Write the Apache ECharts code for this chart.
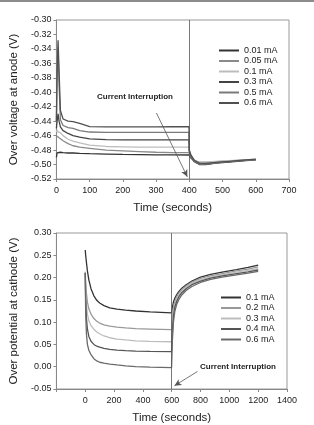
<!DOCTYPE html>
<html><head><meta charset="utf-8">
<script src="https://cdn.jsdelivr.net/npm/echarts@6/dist/echarts.min.js"></script>
<style>html,body{margin:0;padding:0;background:#fff}#c{width:314px;height:425px}</style>
</head><body><div id="c"></div>
<script>
// ---------- Top chart (anode) ----------
const anodeNames = ['0.01 mA','0.05 mA','0.1 mA','0.3 mA','0.5 mA','0.6 mA'];
const anodeColors = ['#333333','#8a8a8a','#bdbdbd','#444444','#7a7a7a','#505050'];
const anodeTime = [0,2,5,8,12,20,35,50,70,100,150,200,250,300,350,399,400,405,415,430,450,480,520,560,600];
const anode001 = [-0.490,-0.484,-0.482,-0.4825,-0.483,-0.4835,-0.484,-0.484,-0.4845,-0.485,-0.4855,-0.486,-0.4862,-0.4865,-0.4867,-0.4868,-0.488,-0.491,-0.4955,-0.499,-0.4995,-0.4975,-0.496,-0.4945,-0.4932];
const anode005 = [-0.460,-0.458,-0.462,-0.463,-0.464,-0.467,-0.471,-0.474,-0.476,-0.4775,-0.480,-0.481,-0.482,-0.483,-0.4835,-0.4836,-0.486,-0.490,-0.495,-0.497,-0.497,-0.496,-0.495,-0.494,-0.4933];
const anode01 = [-0.455,-0.452,-0.455,-0.455,-0.456,-0.460,-0.465,-0.4675,-0.470,-0.473,-0.475,-0.4755,-0.476,-0.476,-0.476,-0.476,-0.483,-0.489,-0.494,-0.4965,-0.4965,-0.4955,-0.4945,-0.4935,-0.493];
const anode03 = [-0.450,-0.440,-0.430,-0.440,-0.448,-0.453,-0.457,-0.460,-0.462,-0.4645,-0.4655,-0.466,-0.466,-0.466,-0.466,-0.466,-0.482,-0.489,-0.496,-0.500,-0.500,-0.498,-0.4965,-0.495,-0.4935];
const anode05 = [-0.440,-0.380,-0.340,-0.390,-0.438,-0.446,-0.449,-0.450,-0.453,-0.455,-0.4555,-0.4555,-0.4555,-0.4555,-0.4554,-0.4554,-0.481,-0.488,-0.495,-0.4995,-0.4995,-0.4975,-0.496,-0.4945,-0.493];
const anode06 = [-0.440,-0.370,-0.328,-0.370,-0.425,-0.437,-0.440,-0.4405,-0.443,-0.4475,-0.448,-0.4478,-0.4478,-0.4478,-0.4477,-0.4476,-0.480,-0.487,-0.494,-0.498,-0.4985,-0.497,-0.4955,-0.494,-0.4925];
const anodeSeries = [anode001, anode005, anode01, anode03, anode05, anode06];
const anodeInterrupt = 400;
const anodeArrow = [[301,-0.4287],[394,-0.517]];

// ---------- Bottom chart (cathode) ----------
const cathNames = ['0.1 mA','0.2 mA','0.3 mA','0.4 mA','0.6 mA'];
const cathColors = ['#333333','#999999','#bdbdbd','#555555','#6a6a6a'];
const cathTime = [0,3,8,15,25,40,60,80,100,130,170,220,280,350,450,599,
                  600,605,612,622,635,650,670,700,740,800,870,950,1050,1130,1200];
const cath01 = [0.262,0.250,0.235,0.215,0.195,0.175,0.159,0.149,0.143,0.137,0.132,0.129,0.127,0.125,0.123,0.121,
                0.121,0.134,0.145,0.154,0.162,0.169,0.176,0.184,0.192,0.201,0.207,0.212,0.218,0.223,0.228];
const cath02 = [0.213,0.190,0.165,0.145,0.130,0.118,0.108,0.102,0.098,0.094,0.091,0.089,0.087,0.0855,0.0845,0.083,
                0.083,0.112,0.133,0.147,0.157,0.165,0.173,0.181,0.190,0.198,0.204,0.209,0.215,0.219,0.224];
const cath03 = [0.210,0.170,0.140,0.118,0.103,0.092,0.084,0.078,0.074,0.069,0.065,0.062,0.060,0.058,0.057,0.056,
                0.055,0.095,0.122,0.140,0.152,0.161,0.169,0.178,0.187,0.195,0.201,0.206,0.212,0.216,0.220];
const cath04 = [0.210,0.150,0.110,0.085,0.068,0.057,0.050,0.046,0.044,0.041,0.039,0.037,0.036,0.035,0.0345,0.034,
                0.034,0.080,0.113,0.134,0.147,0.157,0.166,0.175,0.184,0.192,0.199,0.204,0.209,0.213,0.217];
const cath06 = [0.210,0.120,0.075,0.050,0.037,0.027,0.018,0.013,0.010,0.008,0.006,0.004,0.002,0.000,-0.001,-0.002,
                -0.002,0.060,0.100,0.125,0.140,0.151,0.161,0.171,0.180,0.189,0.196,0.201,0.206,0.210,0.214];
const cathSeries = [cath01, cath02, cath03, cath04, cath06];
const cathInterrupt = 600;
const cathArrow = [[779,-0.0106],[619,-0.0427]];

const FONT = 'Liberation Sans, Arial, sans-serif';
const labelStyle = {color:'#222', fontSize:9, fontFamily:FONT};
const nameStyle = {color:'#222', fontSize:11.5, fontFamily:FONT};

function pairs(t, v){ return v.map((y,i)=>[t[i], y]); }

const series = [];
anodeSeries.forEach((v,i)=>{
  series.push({name:anodeNames[i], type:'line', xAxisIndex:0, yAxisIndex:0, data:pairs(anodeTime,v),
    showSymbol:false, symbol:'none', lineStyle:{color:anodeColors[i], width:1.3}, itemStyle:{color:anodeColors[i]}, z:3});
});
cathSeries.forEach((v,i)=>{
  series.push({name:cathNames[i], type:'line', xAxisIndex:1, yAxisIndex:1, data:pairs(cathTime,v),
    showSymbol:false, symbol:'none', lineStyle:{color:cathColors[i], width:1.3}, itemStyle:{color:cathColors[i]}, z:3});
});
// interruption lines and arrows
series.push({type:'line', xAxisIndex:0, yAxisIndex:0, data:[], silent:true,
  markLine:{silent:true, animation:false, label:{show:false},
    data:[
      [{coord:[anodeInterrupt,-0.30], symbol:'none'},{coord:[anodeInterrupt,-0.52], symbol:'none'}],
      [{coord:anodeArrow[0], symbol:'none'},{coord:anodeArrow[1], symbol:'arrow', symbolSize:[5,7]}]
    ],
    lineStyle:{color:'#555', width:0.8, type:'solid'}}});
series.push({type:'line', xAxisIndex:1, yAxisIndex:1, data:[], silent:true,
  markLine:{silent:true, animation:false, label:{show:false},
    data:[
      [{coord:[cathInterrupt,0.30], symbol:'none'},{coord:[cathInterrupt,-0.05], symbol:'none'}],
      [{coord:cathArrow[0], symbol:'none'},{coord:cathArrow[1], symbol:'arrow', symbolSize:[5,7]}]
    ],
    lineStyle:{color:'#555', width:0.8, type:'solid'}}});

const axisLine = {show:true, onZero:false, lineStyle:{color:'#888', width:1}};
const axisTick = {show:true, length:3, lineStyle:{color:'#888'}};

const option = {
  animation:false,
  backgroundColor:'#fff',
  grid:[
    {left:55, top:20, width:234, height:159, show:true, borderColor:'#999', borderWidth:1},
    {left:54, top:233, width:233, height:157, show:true, borderColor:'#999', borderWidth:1}
  ],
  xAxis:[
    {gridIndex:0, type:'value', min:0, max:700, interval:100, axisLine, axisTick, splitLine:{show:false},
     axisLabel:{...labelStyle, margin:7}, name:'Time (seconds)', nameLocation:'middle', nameGap:23, nameTextStyle:nameStyle},
    {gridIndex:1, type:'value', min:-200, max:1400, interval:200, axisLine, axisTick, splitLine:{show:false},
     axisLabel:{...labelStyle, margin:7, formatter:v=> v<0 ? '' : String(v)}, name:'Time (seconds)', nameLocation:'middle', nameGap:23, nameTextStyle:nameStyle}
  ],
  yAxis:[
    {gridIndex:0, type:'value', min:-0.52, max:-0.30, interval:0.02, axisLine, axisTick, splitLine:{show:false},
     axisLabel:{...labelStyle, margin:5, formatter:v=>v.toFixed(2)}, name:'Over voltage at anode (V)', nameLocation:'middle', nameGap:31, nameTextStyle:nameStyle},
    {gridIndex:1, type:'value', min:-0.05, max:0.30, interval:0.05, axisLine, axisTick, splitLine:{show:false},
     axisLabel:{...labelStyle, margin:5, formatter:v=>v.toFixed(2)}, name:'Over potential at cathode (V)', nameLocation:'middle', nameGap:31, nameTextStyle:nameStyle}
  ],
  legend:[
    {data:anodeNames.map((n,i)=>({name:n, itemStyle:{color:anodeColors[i]}})), orient:'vertical', left:214, top:41, itemWidth:20, itemHeight:2, itemGap:1.5, icon:'rect',
     textStyle:{...labelStyle}, selectedMode:false},
    {data:cathNames.map((n,i)=>({name:n, itemStyle:{color:cathColors[i]}})), orient:'vertical', left:216, top:288, itemWidth:20, itemHeight:2, itemGap:1.5, icon:'rect',
     textStyle:{...labelStyle}, selectedMode:false}
  ],
  graphic:[
    {type:'rect', left:0, top:0, shape:{width:314, height:2}, style:{fill:'#8c8c8c'}},
    {type:'text', left:97, top:93, style:{text:'Current Interruption', font:'bold 8px '+FONT, fill:'#222'}},
    {type:'text', left:200, top:363, style:{text:'Current Interruption', font:'bold 8px '+FONT, fill:'#222'}}
  ],
  series
};
const chart = echarts.init(document.getElementById('c'), null, {renderer:'canvas'});
chart.setOption(option);
</script></body></html>
